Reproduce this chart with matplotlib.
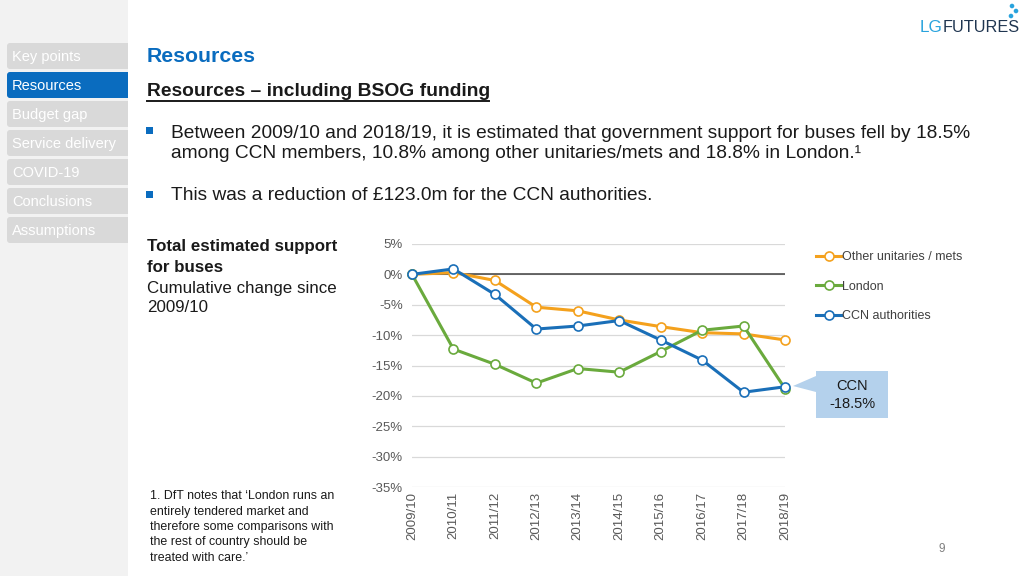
import matplotlib.pyplot as plt
from matplotlib.patches import Rectangle, FancyBboxPatch, Polygon, Circle

plt.rcParams['font.family'] = ['Liberation Sans', 'DejaVu Sans']

years = ['2009/10', '2010/11', '2011/12', '2012/13', '2013/14',
         '2014/15', '2015/16', '2016/17', '2017/18', '2018/19']
other = [0, 0.3, -1.0, -5.4, -6.0, -7.5, -8.6, -9.6, -9.8, -10.8]
london = [0, -12.3, -14.8, -17.9, -15.5, -16.1, -12.7, -9.2, -8.5, -18.8]
ccn = [0, 0.9, -3.3, -9.0, -8.5, -7.6, -10.8, -14.1, -19.4, -18.5]
yticks = [5, 0, -5, -10, -15, -20, -25, -30, -35]

menu = ['Key points', 'Resources', 'Budget gap', 'Service delivery',
        'COVID-19', 'Conclusions', 'Assumptions']

c_orange = '#f4a11d'
c_green = '#6aaa3d'
c_blue = '#1a6fb8'
c_text = '#1a1a1a'
c_gray = '#595959'

fig = plt.figure(figsize=(10.24, 5.76), dpi=100)
fig.patch.set_facecolor('white')

# page decoration, drawn in pixel coordinates
bg = fig.add_axes([0, 0, 1, 1], zorder=0)
bg.set_xlim(0, 1024)
bg.set_ylim(576, 0)
bg.axis('off')

bg.add_patch(Rectangle((0, 0), 128, 576, color='#f2f2f2', lw=0))
for i, name in enumerate(menu):
    top = 43 + 29 * i
    col = '#0a6cbf' if name == 'Resources' else '#d9d9d9'
    bg.add_patch(FancyBboxPatch((7, top), 125, 26,
                                boxstyle='round,pad=0,rounding_size=3',
                                color=col, lw=0))
    bg.text(12, top + 14, name, color='white', fontsize=10.5, va='center')
bg.add_patch(Rectangle((128, 0), 896, 576, color='white', lw=0))

bg.text(147, 57, 'Resources', color='#0a6cbf', fontsize=15.3,
        fontweight='bold', va='center')
bg.text(147, 92, 'Resources \u2013 including BSOG funding', color=c_text,
        fontsize=13.9, fontweight='bold', va='center')
bg.plot([147, 489], [101, 101], color=c_text, lw=1.4)

for yb in (131, 195):
    bg.add_patch(Rectangle((146, yb - 4), 7, 7, color='#0a6cbf', lw=0))
bg.text(171, 133, 'Between 2009/10 and 2018/19, it is estimated that government '
        'support for buses fell by 18.5%', color=c_text, fontsize=13.8, va='center')
bg.text(171, 154, 'among CCN members, 10.8% among other unitaries/mets and '
        '18.8% in London.\u00b9', color=c_text, fontsize=13.8, va='center')
bg.text(171, 196, 'This was a reduction of \u00a3123.0m for the CCN authorities.',
        color=c_text, fontsize=13.8, va='center')

bg.text(147, 247, 'Total estimated support', color=c_text, fontsize=12.2,
        fontweight='bold', va='center')
bg.text(147, 268, 'for buses', color=c_text, fontsize=12.2,
        fontweight='bold', va='center')
bg.text(147, 288, 'Cumulative change since', color=c_text, fontsize=12.2, va='center')
bg.text(147, 308, '2009/10', color=c_text, fontsize=12.2, va='center')

note = ['1. DfT notes that \u2018London runs an', 'entirely tendered market and',
        'therefore some comparisons with', 'the rest of country should be',
        'treated with care.\u2019']
for i, line in enumerate(note):
    bg.text(150, 496 + 15.5 * i, line, color=c_text, fontsize=8.9, va='center')

bg.text(942, 549, '9', color='#7f7f7f', fontsize=8.5, va='center', ha='center')

# logo
bg.text(920, 28, 'LG', color='#29a3dd', fontsize=12.3, va='center')
bg.text(943, 28, 'FUTURES', color='#1f3550', fontsize=11.7, va='center')
for cx, cy in [(1012, 6), (1016, 11), (1011, 16)]:
    bg.add_patch(Circle((cx, cy), 2.3, color='#29a3dd', lw=0))

# callout
bg.add_patch(Polygon([(816, 376), (793, 386), (816, 392)], closed=True,
                     color='#b4d1ec', lw=0))
bg.add_patch(Rectangle((816, 371), 72, 47, color='#b4d1ec', lw=0))
bg.text(852, 395, 'CCN\n%.1f%%' % ccn[-1], color=c_text, fontsize=10.5,
        ha='center', va='center', linespacing=1.35)

# chart
ax = fig.add_axes([412 / 1024, 1 - 487 / 576, 373 / 1024, 243 / 576], zorder=2)
ax.set_facecolor('none')
x = list(range(len(years)))
ax.axhline(0, color='#404040', lw=1.1, zorder=2)
series = [(other, c_orange, 'Other unitaries / mets'),
          (london, c_green, 'London'),
          (ccn, c_blue, 'CCN authorities')]
handles = []
for vals, col, lab in series:
    ln, = ax.plot(x, vals, color=col, lw=2.2, marker='o', markersize=6.5,
                  markerfacecolor='white', markeredgecolor=col,
                  markeredgewidth=1.2, clip_on=False, zorder=3, label=lab)
    handles.append(ln)

ax.set_xlim(0, len(years) - 1)
ax.set_ylim(-35, 5)
ax.set_yticks(yticks)
ax.set_yticklabels(['%d%%' % v for v in yticks])
ax.set_xticks(x)
ax.set_xticklabels(years, rotation=90, va='top', ha='center')
ax.tick_params(axis='both', length=0, labelcolor=c_gray, labelsize=9.5)
ax.tick_params(axis='y', pad=6.5)
ax.tick_params(axis='x', pad=3.5)
ax.yaxis.grid(True, color='#d9d9d9', lw=0.9)
ax.set_axisbelow(True)
for s in ax.spines.values():
    s.set_visible(False)

fig.legend(handles=handles, loc='upper left',
           bbox_to_anchor=(816 / 1024, 1 - 251 / 576), frameon=False,
           fontsize=9, labelcolor='#404040', handlelength=2.0,
           handletextpad=0.1, labelspacing=1.4, borderpad=0,
           borderaxespad=0)

plt.savefig('out.png', dpi=100)
